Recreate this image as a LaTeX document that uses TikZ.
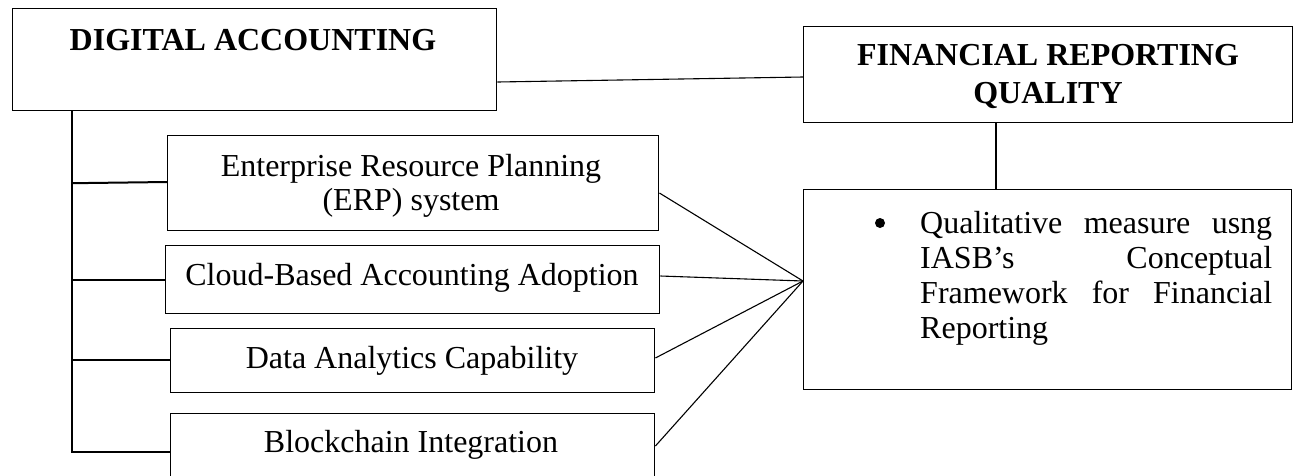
\documentclass[tikz,border=0pt]{standalone}
\usepackage{fontspec}
\setmainfont{Liberation Serif}
\begin{document}
\begin{tikzpicture}[x=1pt,y=-1pt,
  box/.style={draw, line width=1.4pt, inner sep=0pt, anchor=north west},
  txt/.style={inner sep=0pt, anchor=base, font=\fontsize{32}{34}\selectfont},
  txtl/.style={inner sep=0pt, anchor=base west, font=\fontsize{32}{34}\selectfont},
  head/.style={inner sep=0pt, anchor=base, font=\fontsize{32}{34}\selectfont\bfseries},
  tree/.style={line width=2pt},
  conn/.style={line width=1.1pt},
  vline/.style={line width=1.6pt}]
\useasboundingbox (0,0) rectangle (1293,475);
% boxes
\node[box, minimum width=484pt, minimum height=102pt] (da) at (12,8) {};
\node[box, minimum width=489pt, minimum height=96pt] (frq) at (803,26) {};
\node[box, minimum width=491pt, minimum height=95pt] (erp) at (167,135) {};
\node[box, minimum width=494pt, minimum height=68pt] (cloud) at (165,245) {};
\node[box, minimum width=484pt, minimum height=64pt] (data) at (170,328) {};
\node[box, minimum width=484pt, minimum height=75pt] (block) at (170,413) {};
\node[box, minimum width=488pt, minimum height=200pt] (qual) at (803,189) {};
% texts
\node[head] (tda) at (253,50) {DIGITAL ACCOUNTING};
\node[head] (tfrq1) at (1048,65) {FINANCIAL REPORTING};
\node[head] (tfrq2) at (1048,103) {QUALITY};
\node[txt] (terp1) at (411,176) {Enterprise Resource Planning};
\node[txt] (terp2) at (411,210) {(ERP) system};
\node[txt] (tcloud) at (412,285) {Cloud-Based Accounting Adoption};
\node[txt] (tdata) at (412,368) {Data Analytics Capability};
\node[txt] (tblock) at (411,452) {Blockchain Integration};
\node[circle, fill, inner sep=0pt, minimum size=10pt] (bul) at (880,223) {};
\node[txtl] (q1) at (920,233) {\hbox to 352pt{Qualitative\hfill measure\hfill usng}};
\node[txtl] (q2) at (920,268) {\hbox to 352pt{IASB’s\hfill Conceptual}};
\node[txtl] (q3) at (920,303) {\hbox to 352pt{Framework\hfill for\hfill Financial}};
\node[txtl] (q4) at (920,338) {Reporting};
% tree
\coordinate (trunkbot) at (72,452);
\draw[tree] (da.south -| trunkbot) -- (trunkbot) -- (block.west |- trunkbot);
\draw[tree] (erp.west -| trunkbot) -- (erp.west |- 0,182);
\draw[tree] (cloud.west |- 0,280) -| (trunkbot);
\draw[tree] (trunkbot |- 0,360) -- (data.west |- 0,360);
% top link
\draw[conn] (da.east |- 0,82) -- (frq.west |- 0,77);
\draw[vline] (frq.south -| 996,0) -- (qual.north -| 996,0);
% converging connectors
\coordinate (conv) at (qual.west |- 0,281);
\draw[conn] (erp.east |- 0,193) -- (conv);
\draw[conn] (cloud.east |- 0,276) -- (conv);
\draw[conn] (data.east |- 0,358) -- (conv);
\draw[conn] (block.east |- 0,446) -- (conv);
\end{tikzpicture}
\end{document}
